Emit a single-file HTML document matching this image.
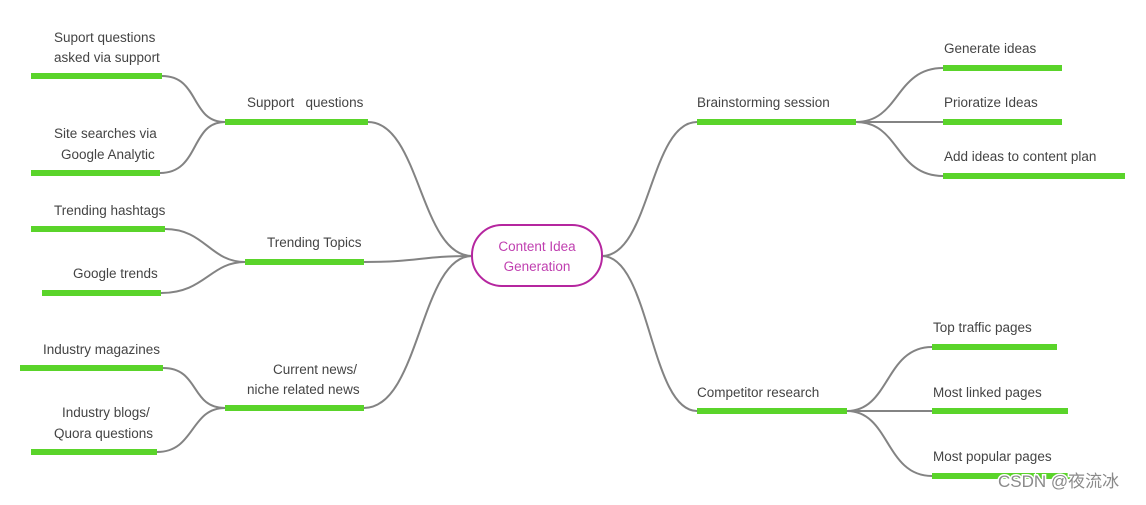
<!DOCTYPE html>
<html><head><meta charset="utf-8"><style>
body{margin:0;background:#fff;width:1146px;height:500px;overflow:hidden}
svg text{font-family:"Liberation Sans",sans-serif;font-size:13.5px;fill:#444}
</style></head><body>
<svg width="1146" height="500" viewBox="0 0 1146 500" xmlns="http://www.w3.org/2000/svg">
<g fill="none" stroke="#838383" stroke-width="2">
<path d="M472,256 C420,256 420,122 368,122"/>
<path d="M472,256 C420,256 420,262 364,262"/>
<path d="M472,256 C420,256 420,408 364,408"/>
<path d="M602,256 C650,256 650,122 697,122"/>
<path d="M602,256 C650,256 650,411 697,411"/>
<path d="M225,122 C190,122 200,76 162,76"/>
<path d="M225,122 C190,122 200,173 160,173"/>
<path d="M245,262 C210,262 205,229 165,229"/>
<path d="M245,262 C210,262 205,293 161,293"/>
<path d="M225,408 C190,408 200,368 163,368"/>
<path d="M225,408 C190,408 195,452 157,452"/>
<path d="M856,122 C900,122 895,68 943,68"/>
<path d="M856,122 C900,122 895,122 943,122"/>
<path d="M856,122 C900,122 895,176 943,176"/>
<path d="M847,411 C890,411 885,347 932,347"/>
<path d="M847,411 C890,411 885,411 932,411"/>
<path d="M847,411 C890,411 885,476 932,476"/>
</g>
<g stroke="#5ad42a" stroke-width="6">
<line x1="31" y1="76" x2="162" y2="76"/>
<line x1="31" y1="173" x2="160" y2="173"/>
<line x1="225" y1="122" x2="368" y2="122"/>
<line x1="31" y1="229" x2="165" y2="229"/>
<line x1="42" y1="293" x2="161" y2="293"/>
<line x1="245" y1="262" x2="364" y2="262"/>
<line x1="20" y1="368" x2="163" y2="368"/>
<line x1="31" y1="452" x2="157" y2="452"/>
<line x1="225" y1="408" x2="364" y2="408"/>
<line x1="697" y1="122" x2="856" y2="122"/>
<line x1="943" y1="68" x2="1062" y2="68"/>
<line x1="943" y1="122" x2="1062" y2="122"/>
<line x1="943" y1="176" x2="1125" y2="176"/>
<line x1="697" y1="411" x2="847" y2="411"/>
<line x1="932" y1="347" x2="1057" y2="347"/>
<line x1="932" y1="411" x2="1068" y2="411"/>
<line x1="932" y1="476" x2="1075" y2="476"/>
</g>
<rect x="472" y="225" width="130" height="61" rx="30" fill="#fff" stroke="#b5269f" stroke-width="2"/>
<text x="537" y="251" text-anchor="middle" style="fill:#c040b0">Content Idea</text>
<text x="537" y="271" text-anchor="middle" style="fill:#c040b0">Generation</text>
<text x="54" y="42">Suport questions</text>
<text x="54" y="62">asked via support</text>
<text x="54" y="138">Site searches via</text>
<text x="61" y="159">Google Analytic</text>
<text x="247" y="107" xml:space="preserve">Support   questions</text>
<text x="54" y="215">Trending hashtags</text>
<text x="73" y="278">Google trends</text>
<text x="267" y="247">Trending Topics</text>
<text x="43" y="354">Industry magazines</text>
<text x="62" y="417">Industry blogs/</text>
<text x="54" y="438">Quora questions</text>
<text x="273" y="374">Current news/</text>
<text x="247" y="394">niche related news</text>
<text x="697" y="107">Brainstorming session</text>
<text x="944" y="53">Generate ideas</text>
<text x="944" y="107">Prioratize Ideas</text>
<text x="944" y="161">Add ideas to content plan</text>
<text x="697" y="397">Competitor research</text>
<text x="933" y="332">Top traffic pages</text>
<text x="933" y="397">Most linked pages</text>
<text x="933" y="461">Most popular pages</text>
<text x="998" y="487" style="fill:#fff;stroke:#fff;stroke-width:3;font-size:17px;font-family:'Liberation Sans','Noto Sans CJK SC',sans-serif">CSDN @夜流冰</text>
<text x="998" y="487" style="fill:#8a8a8a;font-size:17px;font-family:'Liberation Sans','Noto Sans CJK SC',sans-serif">CSDN @夜流冰</text>
</svg>
</body></html>
